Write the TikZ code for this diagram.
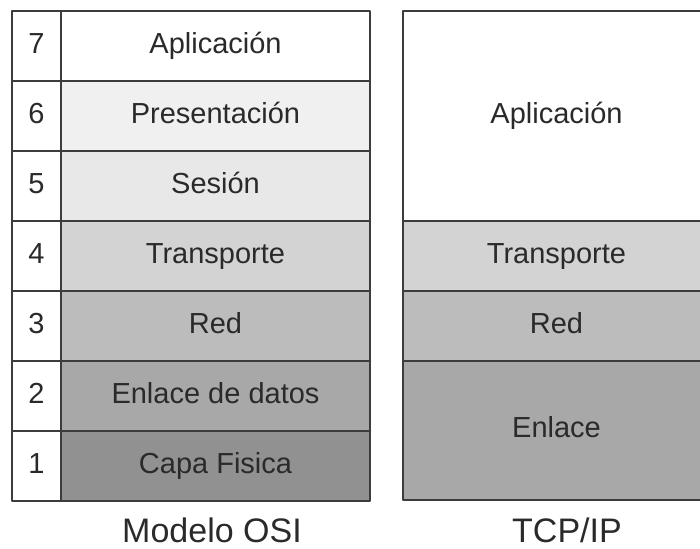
\documentclass[tikz,border=0pt]{standalone}
\usepackage{fontspec}
\setmainfont{Liberation Sans}
\definecolor{linea}{HTML}{3C3C3C}
\definecolor{texto}{HTML}{2A2A2A}
\definecolor{capa7}{HTML}{FFFFFF}
\definecolor{capa6}{HTML}{F0F0F0}
\definecolor{capa5}{HTML}{E8E8E8}
\definecolor{capa4}{HTML}{D3D3D3}
\definecolor{capa3}{HTML}{BCBCBC}
\definecolor{capa2}{HTML}{A8A8A8}
\definecolor{capa1}{HTML}{919191}
\begin{document}
\begin{tikzpicture}[x=0.5pt, y=-0.5pt, line join=round,
		celda/.style={draw=linea, line width=1pt, rectangle, inner sep=0pt, text height=10pt, text depth=3pt, text=texto, font=\fontsize{14.5}{17}\selectfont},
		numero/.style={celda, fill=white, minimum width=24.5pt, minimum height=35pt},
		capa/.style={celda, minimum width=154.5pt, minimum height=35pt},
		tcp/.style={celda, minimum width=153.5pt},
		titulo/.style={text=texto, font=\fontsize{17}{20}\selectfont}]
			\useasboundingbox (0,0) rectangle (700,548);
			
			% modelo OSI
			\foreach \n/\y/\txt in {7/46/Aplicación, 6/116/Presentación, 5/186/Sesión, 4/256/Transporte, 3/326/Red, 2/396/Enlace de datos, 1/466/Capa Fisica}
			{
				\node[numero] (num\n) at (36.5,\y) {\n};
				\node[capa, fill=capa\n] (osi\n) at (215.5,\y) {\txt};
			}
			
			% TCP/IP
			\node[tcp, fill=capa7, minimum height=105pt] (tcpapl) at (556.5,116) {Aplicación};
			\node[tcp, fill=capa4, minimum height=35pt] (tcptra) at (556.5,256) {Transporte};
			\node[tcp, fill=capa3, minimum height=35pt] (tcpred) at (556.5,326) {Red};
			\node[tcp, fill=capa2, minimum height=69.5pt] (tcpenl) at (556.5,430.5) {Enlace};
			
			\node[titulo] (osi) at (212,530) {Modelo OSI};
			\node[titulo] (tcpip) at (567,530) {TCP/IP};
		\end{tikzpicture}
\end{document}
